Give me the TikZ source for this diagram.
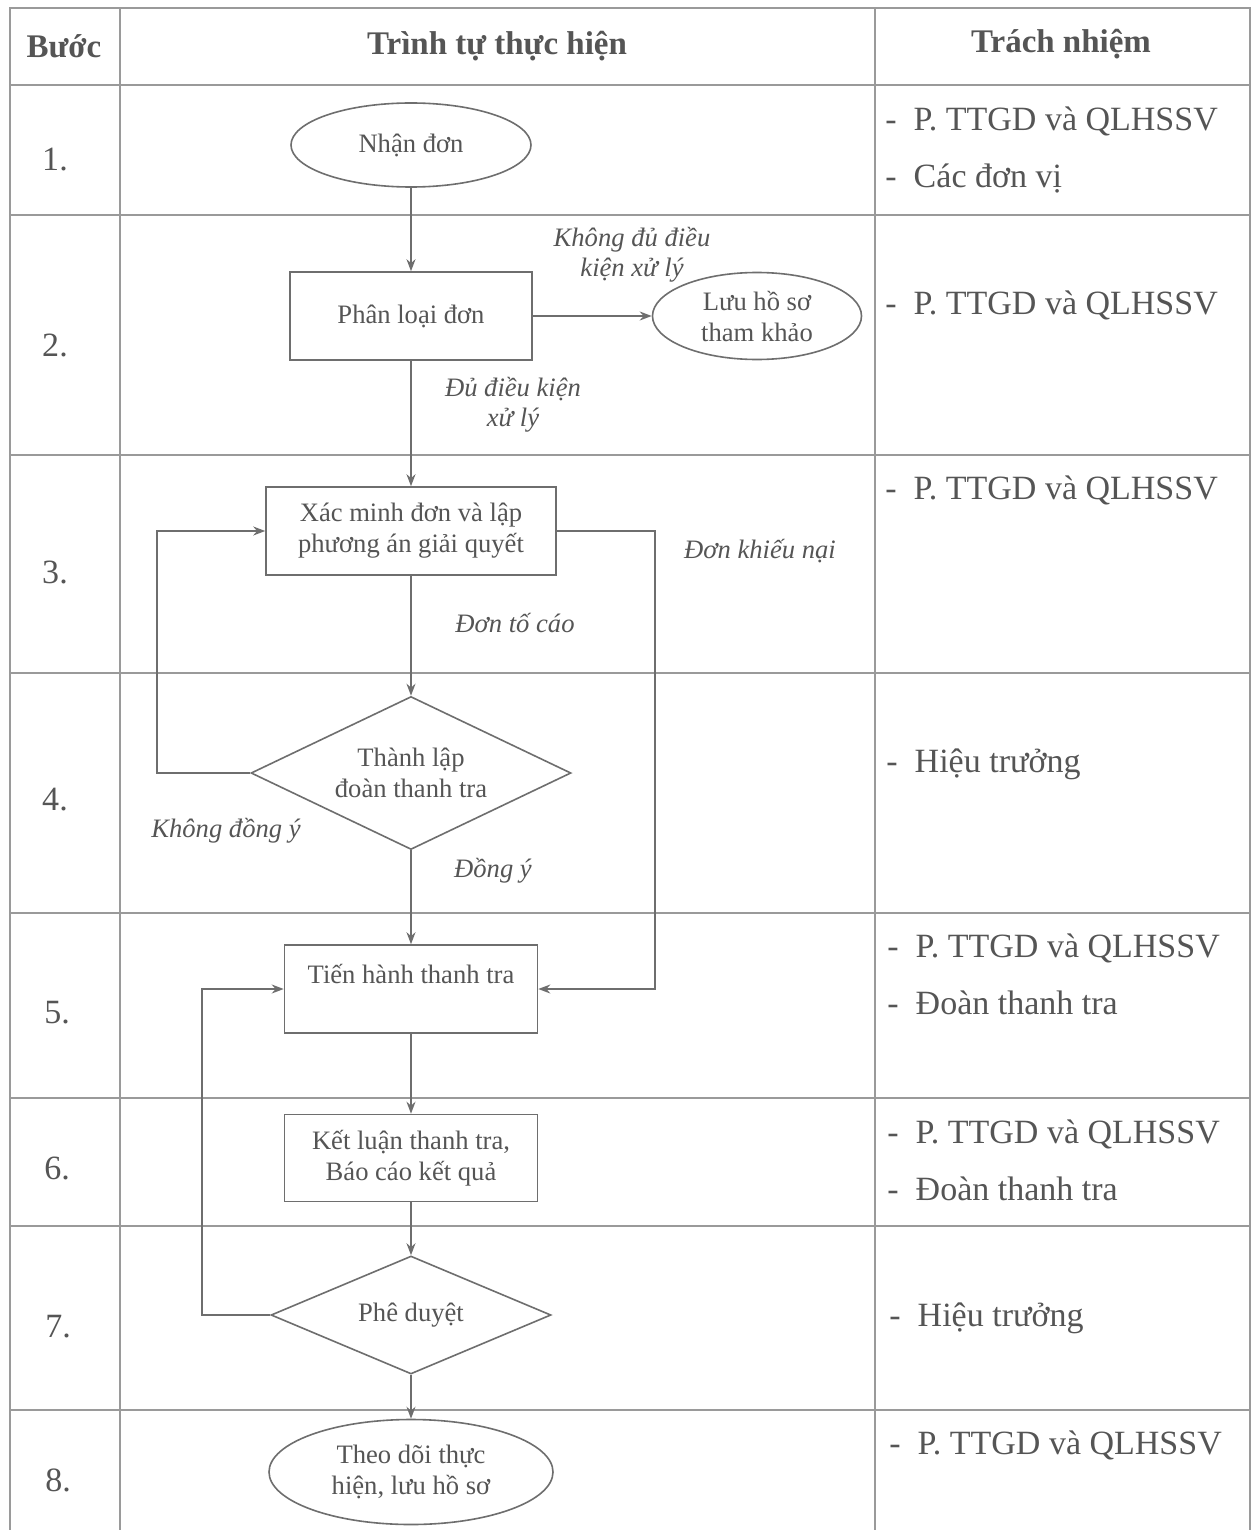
\documentclass[tikz,border=0pt]{standalone}
\usepackage{fontspec}
\setmainfont{Liberation Serif}
\usetikzlibrary{shapes.geometric,arrows.meta}
\definecolor{txt}{HTML}{555555}
\definecolor{ln}{HTML}{6E6E6E}
\definecolor{grid}{HTML}{9A9A9A}
\begin{document}
\begin{tikzpicture}[x=0.5pt,y=-0.5pt,
  every node/.style={text=txt},
  fc/.style={font=\fontsize{13.3}{15.5}\selectfont, align=center},
  boxnode/.style={fc, draw=ln, line width=0.8pt, rectangle, inner sep=0pt},
  ellnode/.style={fc, draw=ln, line width=0.8pt, ellipse, inner sep=0pt},
  dianode/.style={fc, draw=ln, line width=0.8pt, diamond, inner sep=0pt},
  lbl/.style={font=\fontsize{13.3}{15}\selectfont\itshape, align=center},
  resp/.style={font=\fontsize{17}{20}\selectfont, anchor=west, inner sep=0pt},
  stepno/.style={font=\fontsize{17}{20}\selectfont},
  head/.style={font=\fontsize{16.5}{20}\selectfont\bfseries},
  arr/.style={draw=ln, line width=0.8pt, -{Stealth[length=6pt,width=4.5pt]}},
  gridline/.style={draw=grid, line width=0.8pt}
]
\useasboundingbox (0,0) rectangle (1259,1530);
\fill[white] (0,0) rectangle (1259,1530);
% table grid
\draw[gridline] (10,1530) -- (10,8) -- (1250,8) -- (1250,1530);
\foreach \yy in {85,215,455,673,913,1098,1226,1410}
  \draw[gridline] (10,\yy) -- (1250,\yy);
\draw[gridline] (120,8) -- (120,1530);
\draw[gridline] (875,8) -- (875,1530);
% header
\node[head] (h1) at (64,46) {Bước};
\node[head] (h2) at (497,46) {Trình tự thực hiện};
\node[head] (h3) at (1061,44) {Trách nhiệm};
% step numbers
\node[stepno] (s1) at (55,160) {1.};
\node[stepno] (s2) at (55,345) {2.};
\node[stepno] (s3) at (55,572) {3.};
\node[stepno] (s4) at (55,800) {4.};
\node[stepno] (s5) at (57,1013) {5.};
\node[stepno] (s6) at (57,1168) {6.};
\node[stepno] (s7) at (58,1327) {7.};
\node[stepno] (s8) at (58,1480) {8.};
% responsibilities
\node[resp] (r1a) at (885,121) {-~~P. TTGD và QLHSSV};
\node[resp] (r1b) at (885,178) {-~~Các đơn vị};
\node[resp] (r2a) at (885,305) {-~~P. TTGD và QLHSSV};
\node[resp] (r3a) at (885,490) {-~~P. TTGD và QLHSSV};
\node[resp] (r4a) at (886,764) {-~~Hiệu trưởng};
\node[resp] (r5a) at (887,948) {-~~P. TTGD và QLHSSV};
\node[resp] (r5b) at (887,1003) {-~~Đoàn thanh tra};
\node[resp] (r6a) at (887,1134) {-~~P. TTGD và QLHSSV};
\node[resp] (r6b) at (887,1189) {-~~Đoàn thanh tra};
\node[resp] (r7a) at (889,1318) {-~~Hiệu trưởng};
\node[resp] (r8a) at (889,1445) {-~~P. TTGD và QLHSSV};
% flowchart nodes
\node[ellnode, minimum width=120pt, minimum height=42pt] (nhan) at (411,145) {Nhận đơn};
\node[boxnode, minimum width=121pt, minimum height=44pt] (phan) at (411,316) {Phân loại đơn};
\node[ellnode, minimum width=104.5pt, minimum height=43.5pt] (luu) at (757,316) {Lưu hồ sơ\\tham khảo};
\node[boxnode, minimum width=145pt, minimum height=44pt] (xac) at (411,531) {Xác minh đơn và lập\\phương án giải quyết};
\node[dianode, aspect=2.1, minimum width=160pt, minimum height=76.5pt] (tl) at (411,773) {Thành lập\\đoàn thanh tra};
\node[boxnode, minimum width=126.5pt, minimum height=44pt] (tien) at (411,989) {Tiến hành thanh tra\\\mbox{}};
\node[boxnode, minimum width=126.5pt, minimum height=43.5pt] (ket) at (411,1158) {Kết luận thanh tra,\\Báo cáo kết quả};
\node[dianode, aspect=2.4, minimum width=140pt, minimum height=59pt] (pd) at (411,1315) {Phê duyệt};
\node[ellnode, minimum width=142pt, minimum height=52.5pt] (theo) at (411,1472) {Theo dõi thực\\hiện, lưu hồ sơ};
% helper coordinates
\coordinate (kn) at (655,760);
\coordinate (ka) at (157,650);
\coordinate (pa) at (202,1150);
% connectors
\draw[arr] (nhan.south) -- (phan.north);
\draw[arr] (phan.east) -- (luu.west);
\draw[arr] (phan.south) -- (xac.north);
\draw[arr] (xac.south) -- (tl.north);
\draw[arr] (xac.east) -| (kn) |- (tien.east);
\draw[arr] (tl.west) -| (ka) |- (xac.west);
\draw[arr] (tl.south) -- (tien.north);
\draw[arr] (tien.south) -- (ket.north);
\draw[arr] (ket.south) -- (pd.north);
\draw[arr] (pd.west) -| (pa) |- (tien.west);
\draw[arr] (pd.south) -- (theo.north);
% connector labels
\node[lbl] (l1) at (632,255) {Không đủ điều\\kiện xử lý};
\node[lbl] (l2) at (513,405) {Đủ điều kiện\\xử lý};
\node[lbl] (l3) at (760,551) {Đơn khiếu nại};
\node[lbl] (l4) at (515,623) {Đơn tố cáo};
\node[lbl] (l5) at (226,831) {Không đồng ý};
\node[lbl] (l6) at (493,871) {Đồng ý};
\end{tikzpicture}
\end{document}
